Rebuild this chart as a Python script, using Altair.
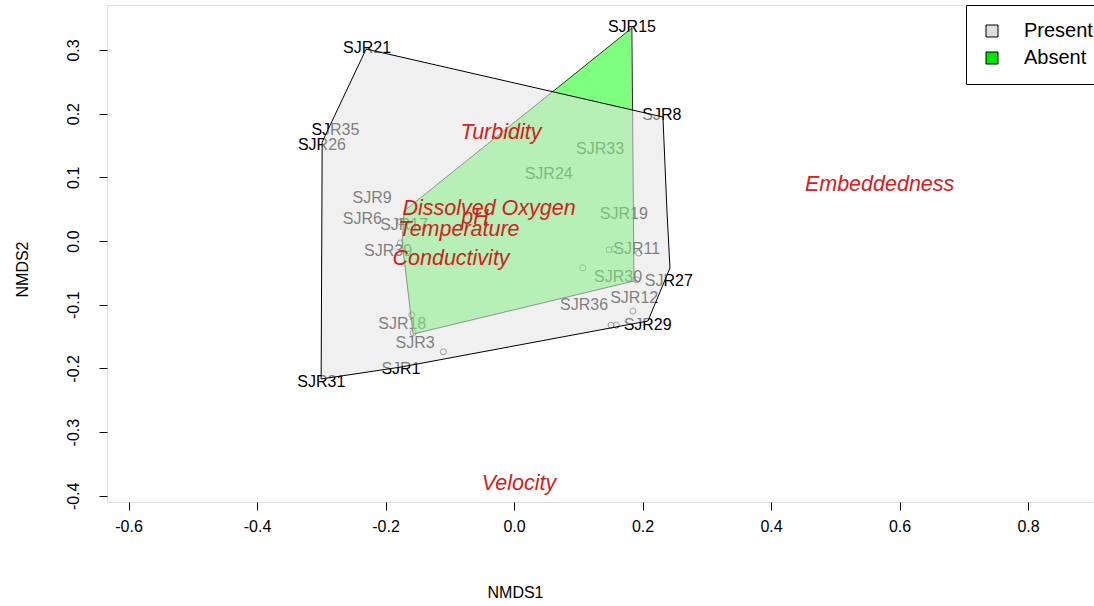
import altair as alt
import pandas as pd

FONT = "Liberation Sans"

# ---- site labels (NMDS scores) ----
site_names = ["SJR15", "SJR21", "SJR8", "SJR35", "SJR26", "SJR33", "SJR24", "SJR9", "SJR6",
              "SJR17", "SJR19", "SJR39", "SJR11", "SJR30", "SJR27", "SJR12", "SJR36", "SJR29",
              "SJR18", "SJR3", "SJR1", "SJR31"]
site_x = [0.1835, -0.2287, 0.230, -0.278, -0.299, 0.134, 0.054, -0.221, -0.236,
          -0.171, 0.171, -0.196, 0.191, 0.162, 0.241, 0.187, 0.109, 0.208,
          -0.174, -0.154, -0.176, -0.300]
site_y = [0.336, 0.303, 0.198, 0.174, 0.151, 0.144, 0.105, 0.0675, 0.0345,
          0.025, 0.042, -0.016, -0.0126, -0.0565, -0.063, -0.0895, -0.100, -0.132,
          -0.130, -0.160, -0.201, -0.221]

# ---- unlabelled site points ----
marker_x = [-0.177, -0.177, 0.148, 0.156, 0.194, 0.107, 0.191, 0.185, 0.151, 0.159, -0.159, -0.157, -0.110]
marker_y = [0.030, -0.003, -0.014, -0.0126, -0.019, -0.042, -0.061, -0.110, -0.132, -0.132, -0.116, -0.144, -0.174]

# ---- hulls ----
present_x = [-0.2302, 0.2318, 0.2380, 0.2427, 0.2084, -0.1758, -0.3002, -0.2986, -0.2302]
present_y = [0.3014, 0.1947, 0.0487, -0.0424, -0.1256, -0.1978, -0.2166, 0.1554, 0.3014]
absent_x = [0.1835, 0.1867, -0.1571, -0.1742, -0.1711, 0.1835]
absent_y = [0.3344, -0.0628, -0.1460, -0.0016, 0.0471, 0.3344]

# ---- environmental variables ----
env_names = ["Turbidity", "Embeddedness", "Dissolved Oxygen", "pH", "Temperature", "Conductivity", "Velocity"]
env_x = [-0.0202, 0.569, -0.0389, -0.0607, -0.0856, -0.098, 0.0078]
env_y = [0.1695, 0.0879, 0.0502, 0.0361, 0.0173, -0.0283, -0.3815]

legend_groups = ["Present", "Absent"]
legend_colors = ["#dedede", "#00e600"]

x_ticks = [-0.6, -0.4, -0.2, 0.0, 0.2, 0.4, 0.6, 0.8]
y_ticks = [-0.4, -0.3, -0.2, -0.1, 0.0, 0.1, 0.2, 0.3]
X_DOMAIN = [-0.6335, 0.9027]
Y_DOMAIN = [-0.4097, 0.3705]

sites_df = pd.DataFrame({"name": site_names, "x": site_x, "y": site_y})
markers_df = pd.DataFrame({"x": marker_x, "y": marker_y})
present_df = pd.DataFrame({"x": present_x, "y": present_y, "i": list(range(len(present_x)))})
absent_df = pd.DataFrame({"x": absent_x, "y": absent_y, "i": list(range(len(absent_x)))})
env_df = pd.DataFrame({"name": env_names, "x": env_x, "y": env_y})
legend_df = pd.DataFrame({"group": legend_groups, "x": [site_x[0]] * 2, "y": [site_y[0]] * 2})

xs = alt.Scale(domain=X_DOMAIN, nice=False, zero=False)
ys = alt.Scale(domain=Y_DOMAIN, nice=False, zero=False)

lab_expr = "replace(format(datum.value, '.1f'), '\u2212', '-')"
x_axis = alt.Axis(values=x_ticks, labelExpr=lab_expr, tickSize=8, tickColor="black", domain=False,
                  grid=False, labelFont=FONT, labelFontSize=16, labelColor="black", labelPadding=8,
                  title="NMDS1", titleFont=FONT, titleFontSize=16, titleFontWeight="normal",
                  titleColor="black", titleX=408, titleY=90, titleAlign="center",
                  titleBaseline="middle", titleAnchor="start")
y_axis = alt.Axis(values=y_ticks, labelExpr=lab_expr, tickSize=8, tickColor="black", domain=False,
                  grid=False, labelFont=FONT, labelFontSize=16, labelColor="black", labelPadding=18,
                  labelAngle=270, title="NMDS2", titleFont=FONT, titleFontSize=16,
                  titleFontWeight="normal", titleColor="black", titleX=-85, titleY=264,
                  titleAlign="center", titleBaseline="middle", titleAnchor="start", titleAngle=270)


def X():
    return alt.X("x:Q", scale=xs, axis=x_axis)


def Y():
    return alt.Y("y:Q", scale=ys, axis=y_axis)


sites = alt.Chart(sites_df).mark_text(font=FONT, fontSize=16, color="black", baseline="middle").encode(
    x=X(), y=Y(), text="name:N")
markers = alt.Chart(markers_df).mark_point(shape="circle", size=36, filled=False, color="black",
                                            strokeWidth=1).encode(x=X(), y=Y())
absent_poly = alt.Chart(absent_df).mark_line(fill="#00ff00", fillOpacity=0.5, stroke="black",
                                             strokeWidth=0.8).encode(x=X(), y=Y(), order="i:Q")
present_poly = alt.Chart(present_df).mark_line(fill="#e3e3e3", fillOpacity=0.55, stroke="black",
                                               strokeWidth=1).encode(x=X(), y=Y(), order="i:Q")
env = alt.Chart(env_df).mark_text(font=FONT, fontSize=21.5, fontStyle="italic", color="#d42020",
                                  baseline="middle").encode(x=X(), y=Y(), text="name:N")
legend_layer = alt.Chart(legend_df).mark_point(opacity=0, shape="square", filled=True).encode(
    x=X(), y=Y(),
    color=alt.Color("group:N", scale=alt.Scale(domain=legend_groups, range=legend_colors),
                    legend=alt.Legend(title=None, orient="none", legendX=859, legendY=0,
                                      strokeColor="black", fillColor="white", padding=16,
                                      symbolType="square", symbolSize=144, symbolOpacity=1,
                                      symbolStrokeColor="black", symbolStrokeWidth=1,
                                      labelFont=FONT, labelFontSize=20, labelColor="black",
                                      labelOffset=22, rowPadding=7, cornerRadius=0)))

chart = alt.layer(sites, markers, absent_poly, present_poly, env, legend_layer).properties(
    width=987, height=497,
    autosize=alt.AutoSizeParams(type="none"),
    padding={"left": 107, "top": 5, "right": 0, "bottom": 104},
).configure_view(stroke="black", strokeWidth=1.6).configure(background="white")

chart.save("out.html", embed_options={"renderer": "svg", "actions": False})
